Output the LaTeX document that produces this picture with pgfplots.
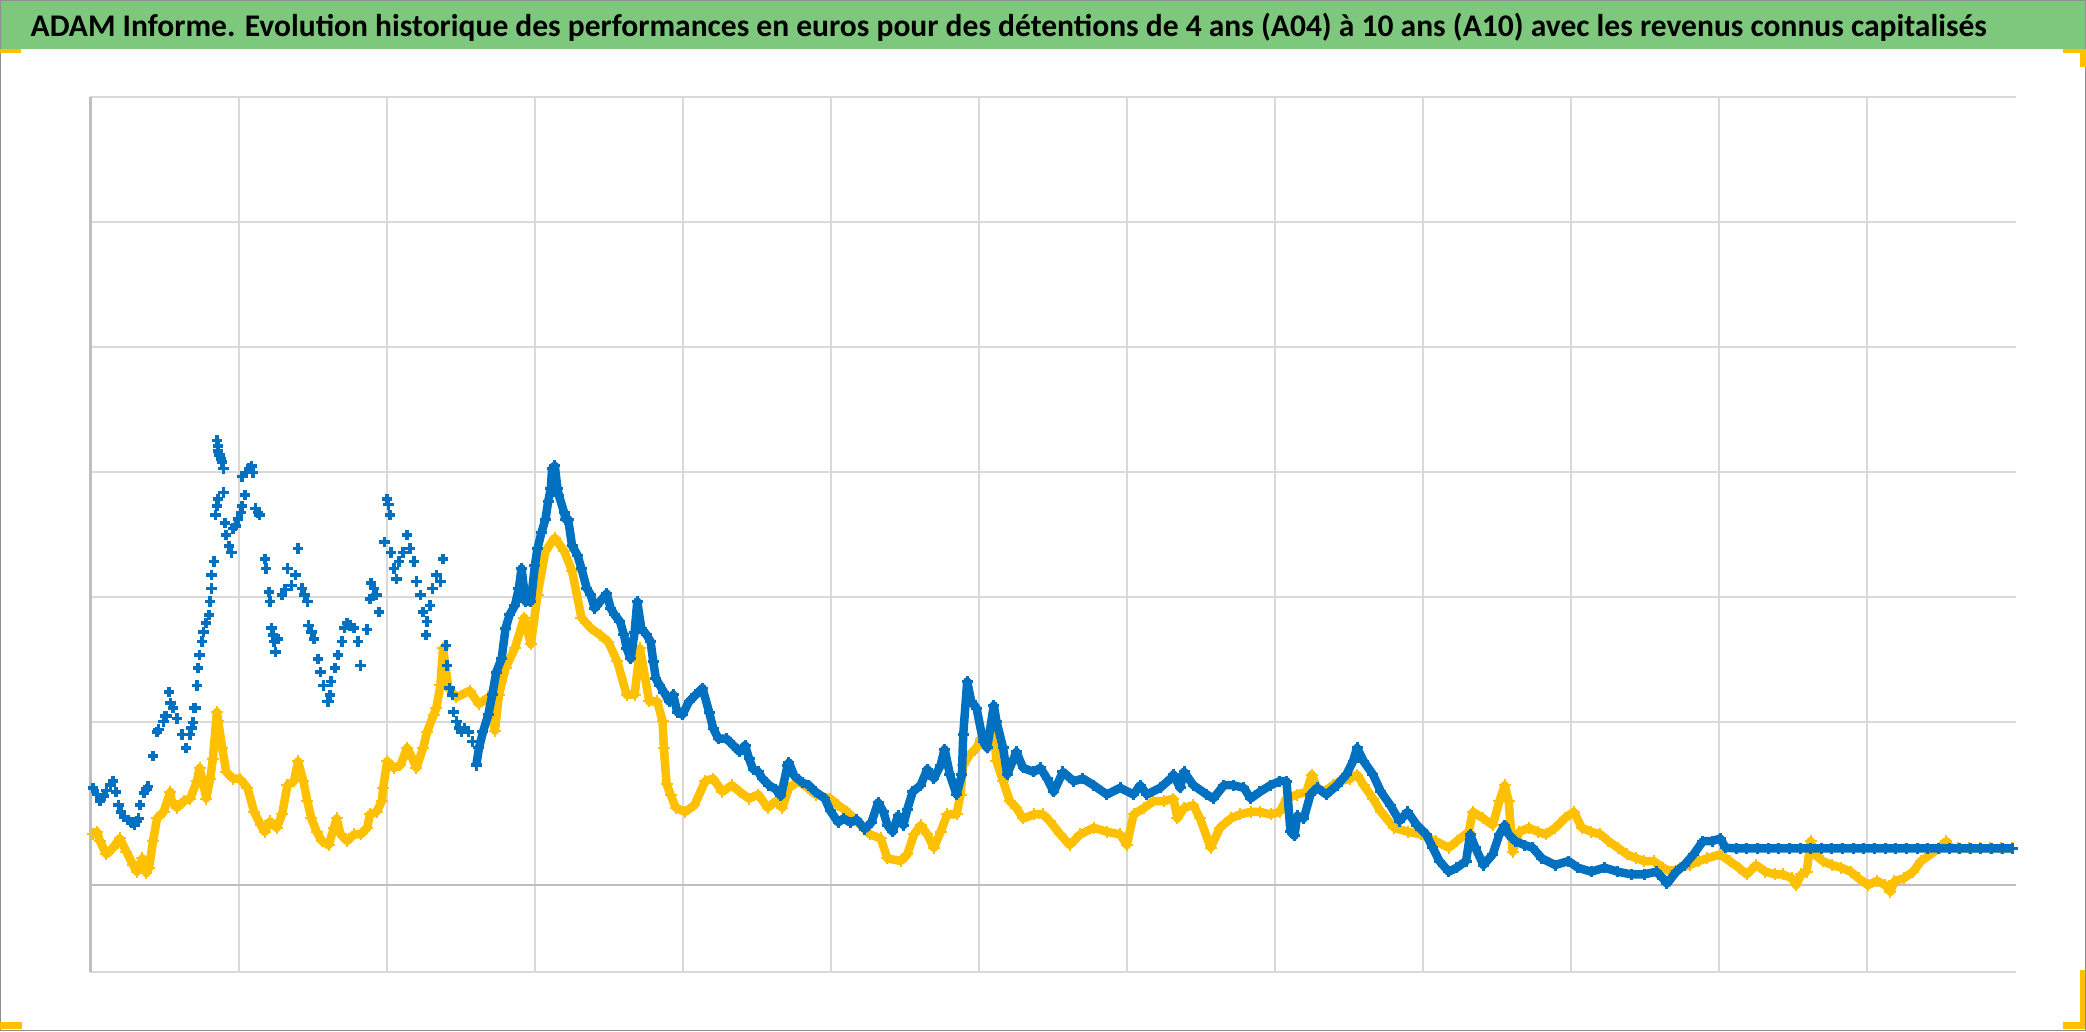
\documentclass[border=0pt]{standalone}
\usepackage{pgfplots}
\pgfplotsset{compat=1.18}
\usepackage{pgfplotstable}
\usepackage{fontspec}
\setmainfont{Carlito}
\definecolor{serA}{HTML}{0070C0}
\definecolor{serB}{HTML}{FFC000}
\definecolor{titlegreen}{RGB}{125,200,125}
\definecolor{gridgray}{HTML}{D9D9D9}
\definecolor{axisgray}{HTML}{BFBFBF}
\definecolor{bordergray}{HTML}{8F8F8F}
\definecolor{handle}{HTML}{FFC000}

% A04 (blue), first part: isolated points
\pgfplotstableread{
x y
2 73
5 68
7 63
10 67
12 71
15 75
17 78
19 70
21 60
23 55
25 51
28 49
31 47
33 45
35 48
36 50
37 60
40 69
42 72
43 74
47 97
50 115
51 117
55 123
56 127
57 127
59 145
60 137
62 133
65 125
69 113
72 103
75 113
76 118
77 122
78 133
79 133
80 150
81 163
82 173
84 183
85 190
87 197
89 203
90 213
91 223
91 233
93 243
94 278
95 285
96 290
95 334
96 330
96 326
97 323
98 320
99 318
100 313
100 295
101 272
102 263
104 255
106 250
107 268
109 270
111 275
113 280
114 285
116 293
114 307
117 310
119 313
121 315
122 310
124 283
126 280
127 278
131 245
132 238
134 220
135 213
136 193
137 188
138 183
139 175
141 185
144 218
146 222
148 238
151 225
154 233
156 253
159 223
161 218
163 213
164 195
166 190
168 185
171 170
173 160
175 150
178 138
179 138
180 143
181 153
184 163
186 173
189 183
191 193
193 197
195 195
198 193
201 183
203 165
208 192
210 215
211 227
213 223
215 218
217 205
221 258
223 290
224 286
225 278
226 250
228 238
230 230
232 243
235 250
238 263
240 253
243 243
245 228
248 218
250 205
252 188
253 198
255 210
257 223
260 233
263 228
265 245
267 180
268 165
270 148
272 143
273 130
275 123
277 118
279 115
281 118
284 115
287 108
290 90
}\blueA

% A04 (blue), second part
\pgfplotstableread{
x y
290 90
292 103
295 115
299 128
302 143
305 160
309 170
312 193
315 203
319 210
322 223
324 238
327 213
331 213
334 240
336 253
339 265
342 275
344 288
346 298
347 313
349 315
351 298
352 293
356 280
357 275
359 275
362 255
366 248
369 238
373 223
376 218
379 208
383 213
388 219
391 208
394 203
398 198
401 188
403 178
406 170
409 190
411 213
414 193
418 188
421 183
423 168
425 155
428 150
431 145
435 138
438 143
441 130
445 128
450 138
455 143
460 148
465 130
468 118
472 110
478 110
483 105
488 100
492 105
495 95
498 87
502 85
505 80
510 75
515 72
519 67
524 90
525 92
529 82
535 77
540 75
545 70
552 65
556 56
562 47
566 50
571 47
576 49
582 42
587 47
592 62
596 55
599 45
603 40
607 52
611 45
614 57
618 70
624 75
629 87
634 80
639 90
642 102
646 83
651 68
655 83
656 113
659 153
662 138
666 133
671 108
674 103
679 135
681 123
686 103
689 83
696 100
701 88
709 85
714 88
719 80
724 70
731 85
739 78
746 80
754 75
764 68
774 73
784 68
789 75
794 68
804 73
812 80
814 83
819 73
822 85
829 75
839 68
844 65
852 75
859 75
867 73
872 65
879 70
887 75
894 78
899 78
902 40
905 37
907 52
912 50
917 68
922 73
929 68
937 75
944 83
949 93
952 103
957 93
964 83
970 70
977 60
984 48
990 55
997 45
1004 38
1009 28
1014 18
1021 10
1027 13
1034 18
1037 38
1041 28
1047 15
1054 23
1059 38
1063 45
1066 38
1071 33
1078 30
1084 28
1091 20
1101 15
1111 18
1118 13
1128 10
1138 13
1148 10
1158 8
1168 8
1177 10
1182 5
1185 1
1192 10
1198 15
1205 23
1212 33
1219 33
1225 35
1229 28
1237 27.5
1245 27.5
1253 27.5
1261 27.5
1269 27.5
1277 27.5
1285 27.5
1293 27.5
1301 27.5
1309 27.5
1317 27.5
1325 27.5
1333 27.5
1341 27.5
1349 27.5
1357 27.5
1365 27.5
1373 27.5
1381 27.5
1389 27.5
1397 27.5
1405 27.5
1413 27.5
1421 27.5
1429 27.5
1437 27.5
1445 27.5
}\blueB

% A10 (gold)
\pgfplotstableread{
x y
2 38
5 40
7 33
12 23
17 28
22 35
27 25
32 15
35 10
39 20
40 15
42 9
44 13
47 33
50 50
55 55
60 70
61 63
65 58
70 63
75 65
80 78
82 88
85 75
87 65
90 80
92 95
95 130
96 123
99 103
102 85
107 80
112 80
118 73
123 55
128 45
131 40
135 48
140 43
144 53
148 75
153 78
156 93
160 78
163 63
166 50
170 40
174 33
179 30
183 43
185 50
188 38
193 33
198 38
203 38
208 43
210 53
215 55
219 63
220 73
223 93
228 88
233 90
238 103
242 95
245 88
250 103
253 115
258 128
260 133
263 150
265 178
269 148
275 141
285 146
292 136
299 141
304 116
307 143
312 163
319 178
326 201
331 181
336 218
342 251
349 261
356 251
362 236
369 201
376 193
383 188
389 183
396 168
403 143
409 143
413 178
420 138
426 138
430 123
431 103
433 76
436 68
440 58
447 55
454 60
462 78
468 80
475 70
482 75
488 70
495 65
502 68
509 58
515 63
520 58
525 73
532 78
539 73
545 68
556 65
562 60
569 55
576 48
586 38
594 35
599 20
609 18
614 23
619 38
624 45
629 38
634 28
639 40
644 53
651 53
654 68
656 90
661 98
666 103
669 110
674 103
679 115
681 93
686 78
691 63
696 58
701 50
709 53
716 53
721 48
729 38
736 30
744 38
754 43
764 40
774 38
779 30
784 53
792 58
799 63
807 63
814 65
817 50
822 58
829 60
834 50
842 28
849 43
857 50
864 53
872 55
879 55
887 53
894 55
899 65
907 68
914 70
918 83
922 73
927 70
934 75
939 78
947 80
952 83
957 75
964 65
970 55
980 43
990 40
1000 38
1011 33
1021 28
1027 33
1036 40
1039 55
1047 50
1054 45
1059 63
1063 75
1066 63
1069 25
1074 40
1081 43
1088 40
1094 38
1101 43
1108 50
1115 55
1121 43
1128 40
1135 38
1141 33
1148 28
1155 23
1162 20
1168 18
1175 18
1182 13
1188 10
1195 13
1202 15
1209 18
1215 20
1225 23
1232 18
1239 13
1245 8
1252 15
1259 10
1266 8
1272 8
1279 5
1282 0
1286 8
1290 10
1293 33
1296 23
1302 18
1309 15
1316 13
1323 10
1329 5
1336 0
1343 3
1349 0
1353 -5
1356 3
1363 5
1370 10
1376 18
1383 23
1390 28
1395 33
1398 28
1404 27.5
1412 27.5
1420 27.5
1428 27.5
1436 27.5
1444 27.5
}\gold

\begin{document}
\begin{tikzpicture}[x=1mm,y=1mm]
\useasboundingbox (0,0) rectangle (208.6,103.1);
\fill[white] (0,0) rectangle (208.6,103.1);
\fill[titlegreen] (0,98.2) rectangle (208.6,103.1);
\node[anchor=base west, inner sep=0pt] at (3.0,99.43)
  {\resizebox{195.6mm}{!}{\bfseries ADAM Informe. Evolution historique des performances en euros pour des détentions de 4 ans (A04) à 10 ans (A10) avec les revenus connus capitalisés}};

\begin{axis}[
  at={(9.05mm,5.9mm)}, anchor=south west,
  scale only axis, width=192.5mm, height=87.5mm,
  xmin=0, xmax=1447, ymin=-65.4, ymax=592.3,
  axis line style={draw=none},
  xtick={111.3,222.6,333.9,445.2,556.5,667.8,779.1,890.4,1001.7,1113,1224.3,1335.6},
  ytick={-65.4,122.5,216.5,310.4,404.4,498.3,592.3},
  xticklabels={}, yticklabels={},
  major tick length=0pt,
  grid=major,
  major grid style={draw=gridgray, line width=0.2mm},
  clip mode=individual,
]
\draw[axisgray, line width=0.22mm] (axis cs:0,-65.4) -- (axis cs:0,592.3);
\draw[axisgray, line width=0.22mm] (axis cs:0,0) -- (axis cs:1447,0);
\addplot[serB, line width=0.85mm, line join=round, mark=+, mark size=0.6mm, mark options={solid, line width=0.2mm}] table[x=x,y=y] {\gold};
\addplot[serA, only marks, mark=+, mark size=0.52mm, mark options={line width=0.36mm}] table[x=x,y=y] {\blueA};
\addplot[serA, line width=0.85mm, line join=round, mark=+, mark size=0.55mm, mark options={solid, line width=0.3mm}] table[x=x,y=y] {\blueB};
\end{axis}

% outer border and selection handles
\draw[bordergray, line width=0.15mm] (0.075,0.075) rectangle (208.525,103.025);
\fill[handle] (0,97.8) rectangle (2.1,98.2);
\fill[handle] (206.3,97.8) rectangle (208.6,98.2);
\fill[handle] (208.0,96.4) rectangle (208.6,98.2);
\fill[handle] (0,0.2) rectangle (2.2,0.9);
\fill[handle] (208.0,0.2) rectangle (208.5,6.1);
\fill[handle] (206.3,0.2) rectangle (208.5,0.9);
\end{tikzpicture}
\end{document}
